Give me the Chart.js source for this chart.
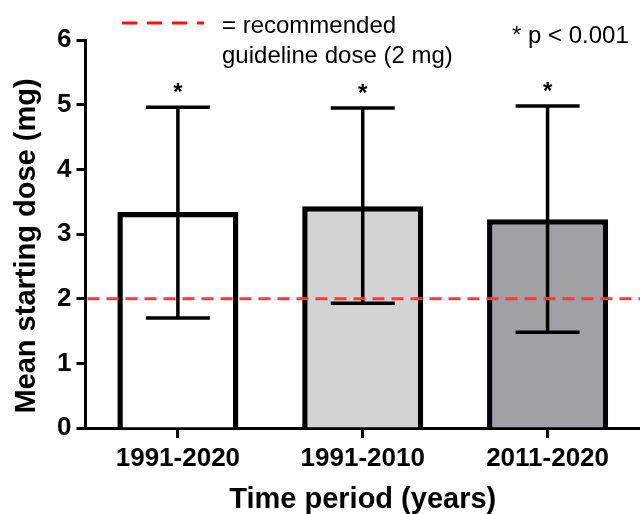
<!DOCTYPE html>
<html>
<head>
<meta charset="utf-8">
<script src="https://cdn.jsdelivr.net/npm/chart.js@4"></script>
<style>
  html, body { margin: 0; padding: 0; background: #fff; }
  #wrap { width: 640px; height: 514px; }
</style>
</head>
<body>
<div id="wrap"><canvas id="mycanvas" width="640" height="514"></canvas></div>
<script>
// data
var periods = ['1991-2020', '1991-2010', '2011-2020'];
var meanDose = [3.34, 3.43, 3.23];
var errLow = [1.70, 1.93, 1.48];
var errHigh = [4.96, 4.95, 4.98];
var barColors = ['#ffffff', '#d3d3d3', '#a1a1a5'];
var guideline = 2;
var yTicks = [0, 1, 2, 3, 4, 5, 6];

var FONT = 'Liberation Sans, Arial, sans-serif';

var extras = {
  id: 'extras',
  afterDatasetsDraw: function(chart) {
    var ctx = chart.ctx;
    var xs = chart.scales.x, ys = chart.scales.y;
    ctx.save();
    // error bars + significance stars
    ctx.strokeStyle = '#000';
    ctx.lineWidth = 3.5;
    for (var i = 0; i < periods.length; i++) {
      var cx = xs.getPixelForValue(i);
      var top = ys.getPixelForValue(errHigh[i]);
      var bot = ys.getPixelForValue(errLow[i]);
      ctx.beginPath();
      ctx.moveTo(cx, top); ctx.lineTo(cx, bot);
      ctx.moveTo(cx - 32, top); ctx.lineTo(cx + 32, top);
      ctx.moveTo(cx - 32, bot); ctx.lineTo(cx + 32, bot);
      ctx.stroke();
      ctx.fillStyle = '#000';
      ctx.font = 'bold 24px ' + FONT;
      ctx.textAlign = 'center';
      ctx.textBaseline = 'alphabetic';
      ctx.fillText('*', cx, top - 7);
    }
    // guideline at 2 mg
    var gy = ys.getPixelForValue(guideline);
    ctx.strokeStyle = '#ee3e3e';
    ctx.lineWidth = 3;
    ctx.setLineDash([12, 7]);
    ctx.beginPath();
    ctx.moveTo(chart.chartArea.left + 2, gy);
    ctx.lineTo(chart.width, gy);
    ctx.stroke();
    // legend
    ctx.strokeStyle = '#ff1010';
    ctx.setLineDash([15, 10]);
    ctx.beginPath();
    ctx.moveTo(122, 23); ctx.lineTo(204, 23);
    ctx.stroke();
    ctx.setLineDash([]);
    ctx.fillStyle = '#000';
    ctx.font = '24px ' + FONT;
    ctx.textAlign = 'left';
    ctx.textBaseline = 'alphabetic';
    ctx.fillText('= recommended', 222, 33);
    ctx.fillText('guideline dose (2 mg)', 222, 63);
    ctx.fillText('* p < 0.001', 512, 43);
    // y axis title
    ctx.translate(27, 246);
    ctx.rotate(-Math.PI / 2);
    ctx.font = 'bold 29px ' + FONT;
    ctx.textAlign = 'center';
    ctx.textBaseline = 'middle';
    ctx.fillText('Mean starting dose (mg)', 0, 0);
    ctx.restore();
  }
};

new Chart(document.getElementById('mycanvas'), {
  type: 'bar',
  data: {
    labels: periods,
    datasets: [{
      data: meanDose,
      backgroundColor: barColors,
      borderColor: '#000',
      borderWidth: 5.5,
      barPercentage: 0.655,
      categoryPercentage: 1
    }]
  },
  options: {
    responsive: false,
    animation: false,
    layout: { padding: { top: 40, right: -7, left: 52, bottom: 0 } },
    plugins: { legend: { display: false }, tooltip: { enabled: false } },
    scales: {
      x: {
        grid: { offset: false, drawOnChartArea: false, drawTicks: true, tickLength: 10, tickWidth: 3, color: '#000' },
        border: { color: '#000', width: 3 },
        ticks: { color: '#000', font: { family: FONT, size: 26, weight: 'bold', lineHeight: 1 }, padding: 8 },
        title: { display: true, text: 'Time period (years)', color: '#000', font: { family: FONT, size: 29, weight: 'bold', lineHeight: 1 }, padding: { top: 5, bottom: 0 } }
      },
      y: {
        min: 0, max: 6,
        afterBuildTicks: function(axis) { axis.ticks = yTicks.map(function(v) { return { value: v }; }); },
        grid: { drawOnChartArea: false, drawTicks: true, tickLength: 9, tickWidth: 3, color: '#000' },
        border: { color: '#000', width: 3 },
        ticks: { color: '#000', font: { family: FONT, size: 26, weight: 'bold', lineHeight: 1 }, padding: 5 }
      }
    }
  },
  plugins: [extras]
});
</script>
</body>
</html>
